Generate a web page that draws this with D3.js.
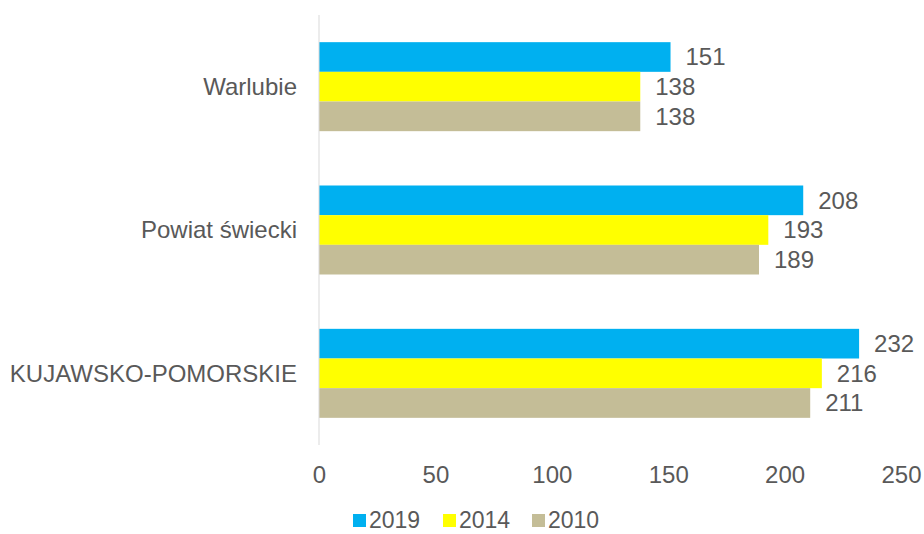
<!DOCTYPE html>
<html><head><meta charset="utf-8">
<script src="https://cdn.jsdelivr.net/npm/d3@7"></script>
<style>body{margin:0;background:#fff}svg{display:block}text{font-family:"Liberation Sans",Arial,sans-serif;fill:#595959}</style>
</head><body><svg id="c" width="924" height="534"></svg>
<script>
const categories = ["Warlubie", "Powiat świecki", "KUJAWSKO-POMORSKIE"];
const seriesNames = ["2019", "2014", "2010"];
const v2019 = [151, 208, 232];
const v2014 = [138, 193, 216];
const v2010 = [138, 189, 211];
const tickValues = [0, 50, 100, 150, 200, 250];
const colors = ["#00B0F0", "#FFFF00", "#C4BD97"];
const seriesValues = [v2019, v2014, v2010];
const FS = 24;

const svg = d3.select("#c");
const x = d3.scaleLinear().domain([0, 250]).range([319, 901]);
const y = d3.scaleBand().domain(categories).range([15, 445]).paddingInner(0).paddingOuter(0);
const yi = d3.scaleBand().domain(seriesNames).range([0, 89]);
const groupOffset = (y.bandwidth() - 89) / 2;

const g = svg.append("g");
categories.forEach((cat, ci) => {
  seriesNames.forEach((s, si) => {
    const val = seriesValues[si][ci];
    const y0 = y(cat) + groupOffset + yi(s);
    g.append("rect").attr("x", x(0)).attr("y", y0)
      .attr("width", x(val) - x(0)).attr("height", yi.bandwidth())
      .attr("fill", colors[si]);
    g.append("text").attr("x", x(val) + 15).attr("y", y0 + yi.bandwidth() / 2)
      .attr("dy", "0.35em").attr("font-size", FS).text(val);
  });
  svg.append("text").attr("x", 297).attr("y", y(cat) + y.bandwidth() / 2)
    .attr("dy", "0.35em").attr("text-anchor", "end").attr("font-size", FS).text(cat);
});

svg.append("line").attr("x1", x(0)).attr("x2", x(0)).attr("y1", 15).attr("y2", 445)
  .attr("stroke", "#D9D9D9").attr("stroke-width", 1);

const ax = svg.append("g").attr("transform", "translate(0,475)")
  .call(d3.axisBottom(x).tickValues(tickValues).tickSize(0).tickPadding(0));
ax.select(".domain").remove();
ax.selectAll("text").attr("font-size", FS).attr("font-family", "Liberation Sans, Arial, sans-serif").attr("fill", "#595959").attr("dy", "0.35em");

const legX = [353, 443, 532];
seriesNames.forEach((s, i) => {
  svg.append("rect").attr("x", legX[i]).attr("y", 514).attr("width", 13).attr("height", 13).attr("fill", colors[i]);
  svg.append("text").attr("x", legX[i] + 16).attr("y", 520).attr("dy", "0.35em").attr("font-size", 23).text(s);
});
</script></body></html>
